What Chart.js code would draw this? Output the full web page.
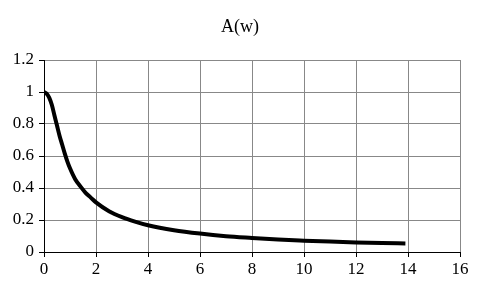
<!DOCTYPE html>
<html>
<head>
<meta charset="utf-8">
<script src="https://cdn.jsdelivr.net/npm/chart.js@4/dist/chart.umd.min.js"></script>
<style>
html,body{margin:0;padding:0;background:#fff;}
#wrap{width:480px;height:288px;}
</style>
</head>
<body>
<div id="wrap"><canvas id="c" width="480" height="288"></canvas></div>
<script>
const chartTitle = "A(w)";
const wValues = [0, 0.1, 0.2, 0.3, 0.4, 0.5, 0.6, 0.7, 0.8, 0.9, 1.0, 1.2, 1.4, 1.6, 1.8, 2.0, 2.5, 3.0, 3.5, 4.0, 5.0, 6.0, 7.0, 8.0, 9.0, 10, 11, 12, 13, 13.9];
const aValues = [1.0, 0.99, 0.965, 0.92, 0.855, 0.79, 0.725, 0.67, 0.615, 0.565, 0.523, 0.455, 0.41, 0.37, 0.34, 0.31, 0.255, 0.218, 0.19, 0.167, 0.136, 0.115, 0.099, 0.088, 0.078, 0.071, 0.065, 0.060, 0.056, 0.053];
const xTicks = [0, 2, 4, 6, 8, 10, 12, 14, 16];
const yTicks = [0, 0.2, 0.4, 0.6, 0.8, 1, 1.2];

const points = wValues.map((w, i) => ({x: w, y: aValues[i]}));
const serif = "'Liberation Serif', 'DejaVu Serif', serif";

new Chart(document.getElementById('c'), {
  type: 'scatter',
  data: {
    datasets: [{
      data: points,
      showLine: true,
      borderColor: '#000',
      backgroundColor: '#000',
      borderWidth: 4,
      pointRadius: 0,
      cubicInterpolationMode: 'monotone',
      borderCapStyle: 'butt'
    }]
  },
  options: {
    responsive: false,
    animation: false,
    devicePixelRatio: 1,
    layout: {padding: 0},
    plugins: {
      legend: {display: false},
      tooltip: {enabled: false},
      title: {
        display: true,
        text: chartTitle,
        color: '#000',
        font: {family: serif, size: 18, weight: 'normal'},
        padding: {top: 16, bottom: 22.4}
      }
    },
    scales: {
      x: {
        type: 'linear',
        min: xTicks[0],
        max: xTicks[xTicks.length - 1],
        afterBuildTicks: s => { s.ticks = xTicks.map(v => ({value: v})); },
        afterFit: s => { s.height = 36; },
        ticks: {color: '#000', font: {family: serif, size: 17}, padding: 2, maxRotation: 0,
          callback: v => String(v)},
        grid: {color: '#888', tickColor: '#000', tickLength: 5, lineWidth: 1},
        border: {color: '#000', width: 1}
      },
      y: {
        type: 'linear',
        min: yTicks[0],
        max: yTicks[yTicks.length - 1],
        afterBuildTicks: s => { s.ticks = yTicks.map(v => ({value: v})); },
        afterFit: s => { s.width = 44; },
        ticks: {color: '#000', font: {family: serif, size: 17}, padding: 5,
          callback: v => String(Number(v.toFixed(1)))},
        grid: {color: '#888', tickColor: '#000', tickLength: 5, lineWidth: 1},
        border: {color: '#000', width: 1}
      },
      yRight: {
        type: 'linear',
        position: 'right',
        min: 0,
        max: 1.2,
        afterFit: s => { s.width = 20; },
        ticks: {display: false},
        grid: {display: false},
        border: {display: false}
      }
    }
  }
});
</script>
</body>
</html>
